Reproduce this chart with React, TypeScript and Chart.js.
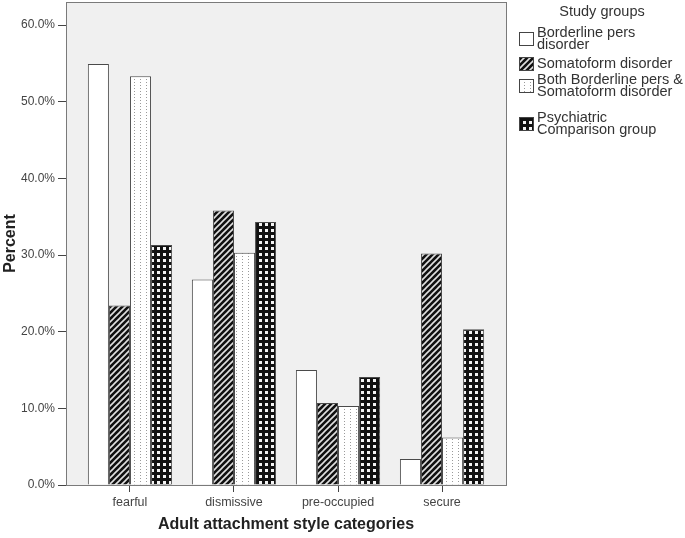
import React, { useEffect, useRef } from "react";
import { Chart, registerables } from "chart.js";

Chart.register(...registerables);

const categories = ["fearful", "dismissive", "pre-occupied", "secure"];
const borderlineValues = [54.9, 26.8, 15.0, 3.4];
const somatoformValues = [23.4, 35.8, 10.7, 30.2];
const bothValues = [53.3, 30.3, 10.3, 6.2];
const psychiatricValues = [31.3, 34.3, 14.1, 20.3];
const seriesNames = [
  "Borderline pers disorder",
  "Somatoform disorder",
  "Both Borderline pers & Somatoform disorder",
  "Psychiatric Comparison group",
];
const legendLines = [
  ["Borderline pers", "disorder"],
  ["Somatoform disorder"],
  ["Both Borderline pers &", "Somatoform disorder"],
  ["Psychiatric", "Comparison group"],
];
const legendTitle = "Study groups";
const yTickStep = 10;
const yMax = 63;

const FONT = "'Liberation Sans', Arial, sans-serif";

function makePattern(kind: string): CanvasPattern | string {
  const c = document.createElement("canvas");
  const ctx = c.getContext("2d")!;
  if (kind === "white") return "#ffffff";
  if (kind === "hatch") {
    c.width = 6;
    c.height = 6;
    ctx.fillStyle = "#111";
    ctx.fillRect(0, 0, 6, 6);
    ctx.strokeStyle = "#e0e0e0";
    ctx.lineWidth = 1.6;
    ctx.beginPath();
    ctx.moveTo(0, 6);
    ctx.lineTo(6, 0);
    ctx.moveTo(-1, 1);
    ctx.lineTo(1, -1);
    ctx.moveTo(5, 7);
    ctx.lineTo(7, 5);
    ctx.stroke();
  } else if (kind === "dots") {
    c.width = 6;
    c.height = 3;
    ctx.fillStyle = "#ffffff";
    ctx.fillRect(0, 0, 6, 3);
    ctx.fillStyle = "#9a9a9a";
    ctx.fillRect(2, 1, 1, 1);
  } else {
    c.width = 6;
    c.height = 6;
    ctx.fillStyle = "#111";
    ctx.fillRect(0, 0, 6, 6);
    ctx.fillStyle = "#f4f4f4";
    ctx.fillRect(1, 1, 3, 3);
  }
  return ctx.createPattern(c, "repeat")!;
}

export default function App() {
  const ref = useRef<HTMLCanvasElement>(null);

  useEffect(() => {
    document.body.style.margin = "0";
    const canvas = ref.current!;
    const fills = [
      makePattern("white"),
      makePattern("hatch"),
      makePattern("dots"),
      makePattern("checker"),
    ];
    const seriesValues = [borderlineValues, somatoformValues, bothValues, psychiatricValues];

    const bgPlugin = {
      id: "bgPlugin",
      beforeDatasetsDraw(chart: any) {
        const { ctx, chartArea: a } = chart;
        ctx.save();
        ctx.fillStyle = "#f0f0f0";
        ctx.fillRect(a.left, a.top, a.right - a.left, a.bottom - a.top);
        ctx.restore();
      },
      afterDraw(chart: any) {
        const { ctx, chartArea: a } = chart;
        ctx.save();
        ctx.strokeStyle = "#7a7a7a";
        ctx.lineWidth = 1;
        ctx.strokeRect(Math.round(a.left) + 0.5, Math.round(a.top) + 0.5, Math.round(a.right - a.left), Math.round(a.bottom - a.top));
        // legend
        ctx.fillStyle = "#333";
        ctx.font = `14.5px ${FONT}`;
        ctx.textBaseline = "middle";
        ctx.textAlign = "center";
        ctx.fillText(legendTitle, 602, 12);
        ctx.textAlign = "left";
        const tops = [33, 64, 80, 118];
        legendLines.forEach((lines, i) => {
          const y0 = tops[i];
          const blockCenter = y0 + ((lines.length - 1) * 12) / 2;
          ctx.fillStyle = fills[i] as any;
          ctx.fillRect(520, blockCenter - 6, 14, 13);
          ctx.strokeStyle = "#444";
          ctx.strokeRect(519.5, Math.round(blockCenter - 6) - 0.5, 14, 13);
          ctx.fillStyle = "#333";
          lines.forEach((t, j) => ctx.fillText(t, 537, y0 + j * 12));
        });
        ctx.restore();
      },
    };

    const chart = new Chart(canvas, {
      type: "bar",
      data: {
        datasets: seriesValues.map((vals, i) => ({
          label: seriesNames[i],
          data: vals.map((v, k) => ({ x: k, y: v })),
          backgroundColor: fills[i] as any,
          borderColor: "#4a4a4a",
          borderWidth: 1,
          barPercentage: 1,
          categoryPercentage: 0.81,
        })),
      },
      options: {
        responsive: false,
        animation: false,
        events: [],
        layout: { padding: { top: 2, right: 179, left: 0, bottom: 0 } },
        plugins: { legend: { display: false }, tooltip: { enabled: false } },
        scales: {
          x: {
            type: "linear",
            min: -0.615,
            max: 3.615,
            offset: false,
            afterBuildTicks: (scale: any) => {
              scale.ticks = categories.map((_, i) => ({ value: i }));
            },
            afterFit: (scale: any) => {
              scale.height = 53;
              scale.paddingLeft = 0;
              scale.paddingRight = 0;
            },
            ticks: {
              callback: (v: any) => categories[v] ?? "",
              color: "#444",
              font: { family: FONT, size: 12.5 },
              padding: 3,
              maxRotation: 0,
              autoSkip: false,
            },
            grid: { drawOnChartArea: false, offset: false, tickLength: 7, color: "#444" },
            border: { color: "#555" },
            title: {
              display: true,
              text: "Adult attachment style categories",
              color: "#222",
              font: { family: FONT, size: 16, weight: "bold" },
              padding: { top: 4, bottom: 4 },
            },
          },
          y: {
            min: 0,
            max: yMax,
            afterBuildTicks: (scale: any) => {
              const t = [];
              for (let v = 0; v <= 60; v += yTickStep) t.push({ value: v });
              scale.ticks = t;
            },
            afterFit: (scale: any) => {
              scale.width = 66;
              scale.paddingTop = 0;
              scale.paddingBottom = 0;
            },
            ticks: {
              callback: (v: any) => `${Number(v).toFixed(1)}%`,
              color: "#444",
              font: { family: FONT, size: 12 },
              padding: 3,
            },
            grid: { drawOnChartArea: false, tickLength: 8, color: "#444" },
            border: { color: "#555" },
            title: {
              display: true,
              text: "Percent",
              color: "#222",
              font: { family: FONT, size: 16, weight: "bold" },
              padding: { top: 1, bottom: 0 },
            },
          },
        },
      } as any,
      plugins: [bgPlugin],
    });
    return () => chart.destroy();
  }, []);

  return (
    <div style={{ position: "fixed", left: 0, top: 0, width: 685, height: 538, background: "#fff" }}>
      <canvas ref={ref} width={685} height={538} />
    </div>
  );
}
